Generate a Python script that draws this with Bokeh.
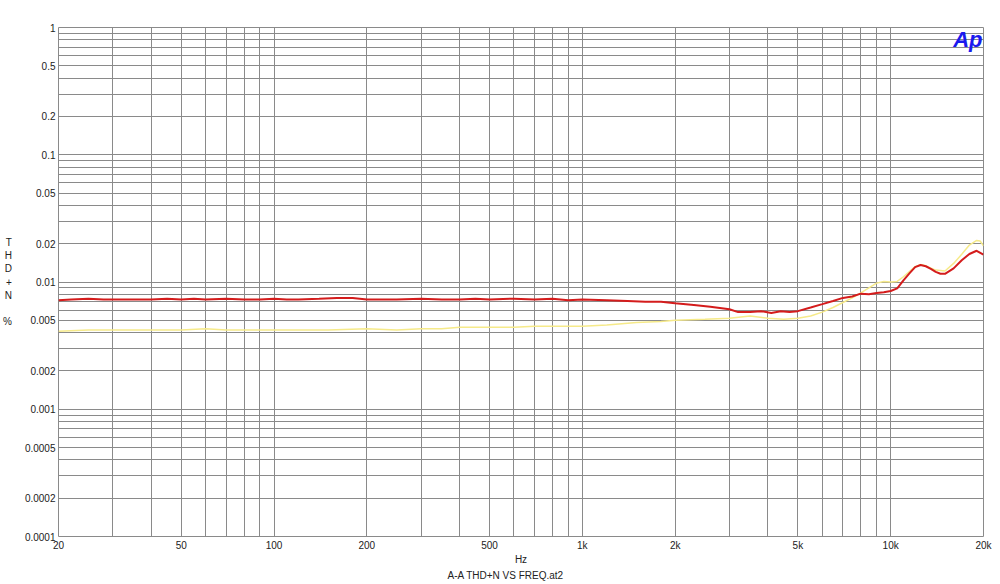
from bokeh.plotting import figure
from bokeh.models import FixedTicker, Label, Title
from bokeh.embed import file_html
from bokeh.resources import INLINE

# ---- data ----
red_f = [20, 22, 25, 28, 30, 35, 40, 45, 50, 55, 60, 70, 80, 90, 100, 110, 120, 140, 160, 180,
         200, 250, 300, 350, 400, 450, 500, 600, 700, 800, 900, 1000, 1200, 1400, 1600, 1800,
         2000, 2300, 2600, 3000, 3200, 3500, 3800, 4100, 4400, 4700, 5000, 5500, 6000, 6500,
         7000, 7500, 8000, 8500, 9000, 9500, 10000, 10500, 11000, 11500, 12000, 12500, 13000,
         13500, 14000, 14500, 15000, 16000, 17000, 18000, 19000, 20000]
red_v = [0.0072, 0.0073, 0.0074, 0.0073, 0.0073, 0.0073, 0.0073, 0.0074, 0.0073, 0.0074,
         0.0073, 0.0074, 0.0073, 0.0073, 0.0074, 0.0073, 0.0073, 0.0074, 0.0075, 0.0075,
         0.0073, 0.0073, 0.0074, 0.0073, 0.0073, 0.0074, 0.0073, 0.0074, 0.0073, 0.0074,
         0.0072, 0.0073, 0.0072, 0.0071, 0.0070, 0.0070, 0.0068, 0.0066, 0.0064, 0.0061,
         0.0058, 0.0058, 0.0059, 0.0057, 0.0059, 0.0058, 0.0059, 0.0063, 0.0067, 0.0071,
         0.0075, 0.0077, 0.0081, 0.0080, 0.0082, 0.0083, 0.0085, 0.0089, 0.0103, 0.0117,
         0.0131, 0.0136, 0.0133, 0.0127, 0.0120, 0.0116, 0.0116, 0.0128, 0.0148, 0.0166,
         0.0176, 0.0164]

yel_f = [20, 25, 30, 40, 50, 60, 70, 80, 100, 120, 150, 200, 250, 300, 350, 400, 500, 600,
         700, 800, 1000, 1200, 1500, 1800, 2000, 2500, 3000, 3500, 4000, 4500, 5000, 5500,
         6000, 6500, 7000, 7500, 8000, 8500, 9000, 9500, 10000, 10500, 11000, 12000, 12500,
         13000, 14000, 15000, 16000, 17000, 18000, 19000, 19500, 20000]
yel_v = [0.0041, 0.0042, 0.0042, 0.0042, 0.0042, 0.0043, 0.0042, 0.0042, 0.0042, 0.0042,
         0.0042, 0.0043, 0.0042, 0.0043, 0.0043, 0.0044, 0.0044, 0.0044, 0.0045, 0.0045,
         0.0045, 0.0046, 0.0048, 0.0049, 0.0050, 0.0051, 0.0052, 0.0054, 0.0052, 0.0051,
         0.0052, 0.0054, 0.0058, 0.0063, 0.0069, 0.0075, 0.0082, 0.0090, 0.0098, 0.0101,
         0.0100, 0.0101, 0.0110, 0.0132, 0.0137, 0.0134, 0.0124, 0.0122, 0.0140, 0.0165,
         0.0195, 0.0212, 0.0210, 0.0192]

x_label_ticks = [20, 50, 100, 200, 500, 1000, 2000, 5000, 10000, 20000]
x_label_text = ["20", "50", "100", "200", "500", "1k", "2k", "5k", "10k", "20k"]
x_grid = [20, 30, 40, 50, 60, 70, 80, 90, 100, 200, 300, 400, 500, 600, 700, 800, 900,
          1000, 2000, 3000, 4000, 5000, 6000, 7000, 8000, 9000, 10000, 20000]
y_label_ticks = [1, 0.5, 0.2, 0.1, 0.05, 0.02, 0.01, 0.005, 0.002, 0.001, 0.0005, 0.0002, 0.0001]
y_label_text = ["1", "0.5", "0.2", "0.1", "0.05", "0.02", "0.01", "0.005", "0.002", "0.001",
                "0.0005", "0.0002", "0.0001"]
y_grid = [m * 10.0 ** e for e in range(-4, 0) for m in range(1, 10)] + [1.0]
y_title = "T\nH\nD\n+\nN\n\n%"
x_title = "Hz"
bottom_title = "A-A THD+N VS FREQ.at2"

FONT = "Liberation Sans"
GRID = "#8a8a8a"
TXT = "#222222"

p = figure(width=1000, height=584, x_axis_type="log", y_axis_type="log",
           x_range=(20, 20000), y_range=(0.0001, 1),
           output_backend="svg", toolbar_location=None,
           min_border_left=57, min_border_right=17, min_border_top=27, min_border_bottom=48)
p.outline_line_color = GRID
p.background_fill_color = "white"
p.border_fill_color = "white"

p.xaxis.ticker = FixedTicker(ticks=x_label_ticks)
p.xaxis.major_label_overrides = {t: s for t, s in zip(x_label_ticks, x_label_text)}
p.yaxis.ticker = FixedTicker(ticks=y_label_ticks)
p.yaxis.major_label_overrides = {t: s for t, s in zip(y_label_ticks, y_label_text)}
for ax in (p.xaxis[0], p.yaxis[0]):
    ax.axis_line_color = None
    ax.major_tick_line_color = None
    ax.minor_tick_line_color = None
    ax.major_tick_out = 0
    ax.minor_tick_out = 0
    ax.major_tick_in = 0
    ax.minor_tick_in = 0
    ax.major_label_text_font = FONT
    ax.major_label_text_font_size = "10px"
    ax.major_label_text_color = TXT
    ax.major_label_standoff = 3
    ax.axis_label_text_font = FONT
    ax.axis_label_text_font_size = "10px"
    ax.axis_label_text_font_style = "normal"
    ax.axis_label_text_color = TXT
p.xaxis.axis_label = x_title
p.xaxis.axis_label_standoff = 0

p.yaxis.axis_label = y_title
p.yaxis.axis_label_standoff = 10
if "axis_label_orientation" in p.yaxis[0].properties():
    p.yaxis.axis_label_orientation = "horizontal"

p.xgrid.ticker = FixedTicker(ticks=x_grid)
p.ygrid.ticker = FixedTicker(ticks=y_grid)
p.xgrid.grid_line_color = GRID
p.ygrid.grid_line_color = GRID
p.xgrid.grid_line_width = 1
p.ygrid.grid_line_width = 1

p.line(yel_f, yel_v, line_color="#f6ea8a", line_width=1.5)
p.line(red_f, red_v, line_color="#d41c1c", line_width=2)

# bottom caption
p.add_layout(Title(text=bottom_title, align="left", offset=389, text_font=FONT,
                   text_font_size="10px", text_font_style="normal", text_color=TXT,
                   standoff=0), "below")

# Ap logo
p.add_layout(Label(x=981 - 57, y=536 - 39, x_units="screen", y_units="screen", text="Ap",
                   text_font=FONT, text_font_size="22px", text_font_style="bold italic",
                   text_color="#1a1aee", text_align="right", text_baseline="alphabetic"))

open("out.html", "w").write(file_html(p, INLINE))
